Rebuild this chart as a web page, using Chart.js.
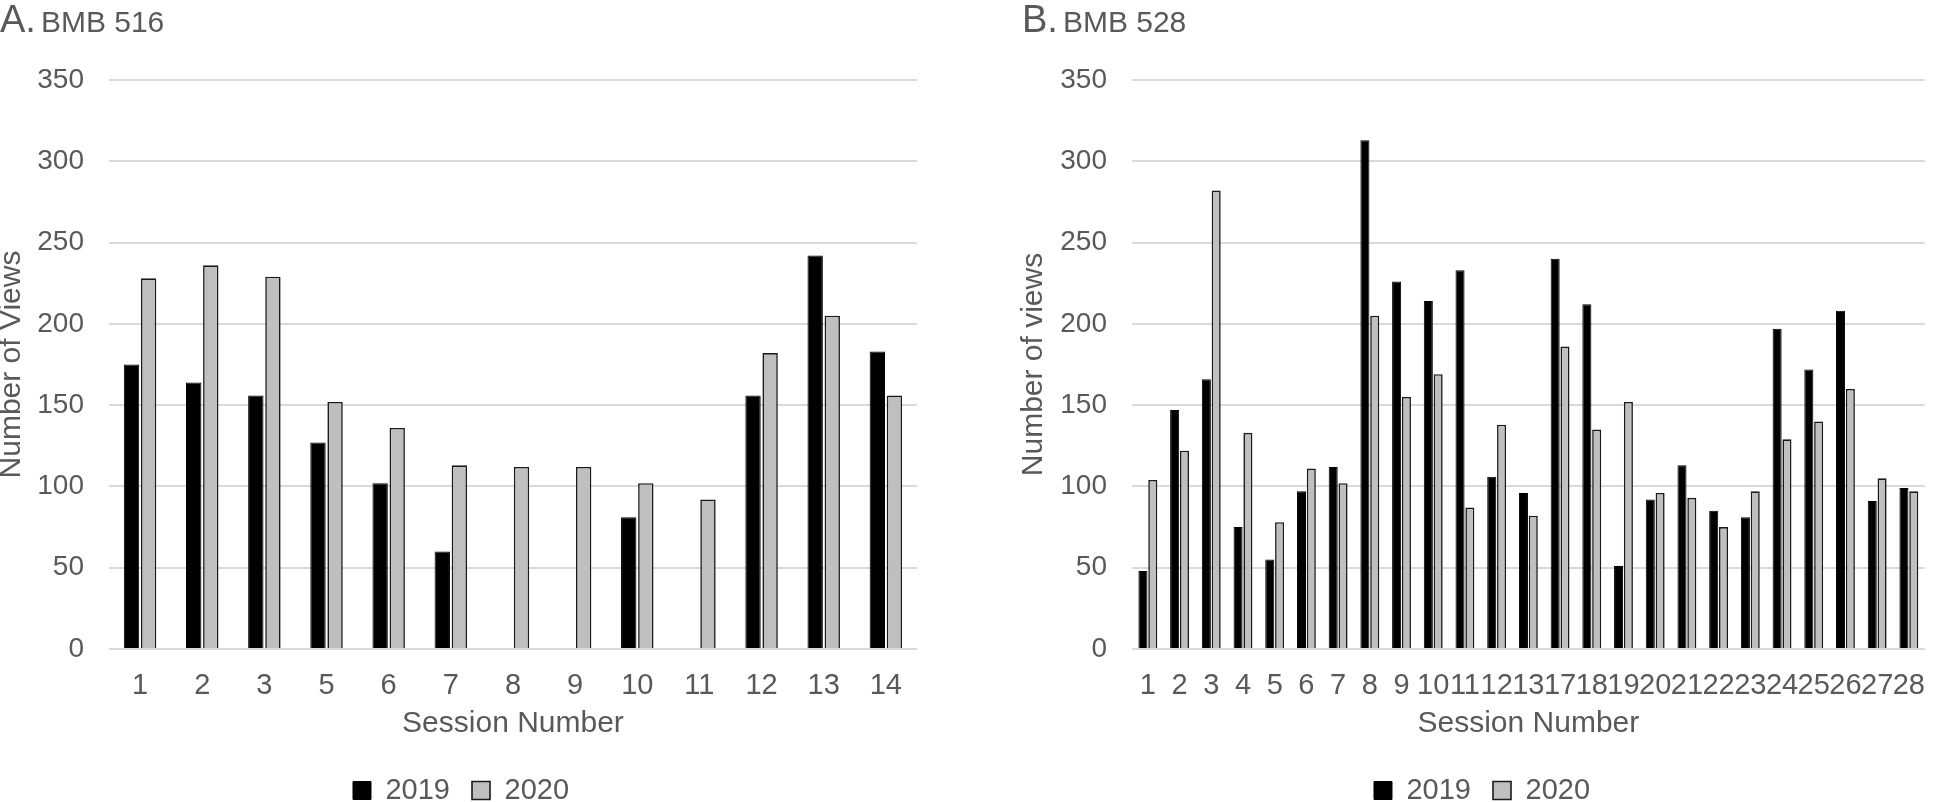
<!DOCTYPE html>
<html>
<head>
<meta charset="utf-8">
<script src="https://cdn.jsdelivr.net/npm/chart.js@4.4.1/dist/chart.umd.min.js"></script>
<style>
  html, body { margin: 0; padding: 0; background: #fff; width: 1945px; height: 802px; overflow: hidden; }
  .panel { position: absolute; top: 0; height: 815px; }
  .title { position: absolute; top: 0; font-family: "Liberation Sans", Arial, sans-serif; color: #595959;
           font-size: 38px; line-height: 38px; white-space: nowrap; }
  .title span { font-size: 30px; margin-left: 5px; }
</style>
</head>
<body>
<div class="panel" style="left:0;width:922px;"><canvas id="chartA" width="922" height="815"></canvas></div>
<div class="panel" style="left:1019px;width:926px;"><canvas id="chartB" width="926" height="815"></canvas></div>
<div class="title" style="left:0;">A.<span>BMB 516</span></div>
<div class="title" style="left:1022px;">B.<span>BMB 528</span></div>

<script>
// panel A - BMB 516
var sessionsA = ['1', '2', '3', '5', '6', '7', '8', '9', '10', '11', '12', '13', '14'];
var views2019A = [175, 164, 156, 127, 102, 60, null, null, 81, null, 156, 242, 183];
var views2020A = [228, 236, 229, 152, 136, 113, 112, 112, 102, 92, 182, 205, 156];

// panel B - BMB 528
var sessionsB = ['1', '2', '3', '4', '5', '6', '7', '8', '9', '10', '11', '12', '13',
                 '17', '18', '19', '20', '21', '22', '23', '24', '25', '26', '27', '28'];
var views2019B = [48, 147, 166, 75, 55, 97, 112, 313, 226, 214, 233, 106, 96,
                  240, 212, 51, 92, 113, 85, 81, 197, 172, 208, 91, 99];
var views2020B = [104, 122, 282, 133, 78, 111, 102, 205, 155, 169, 87, 138, 82,
                  186, 135, 152, 96, 93, 75, 97, 129, 140, 160, 105, 97];

var yearNames = ['2019', '2020'];
var yMax = 350;
var yStep = 50;

var textColor = '#595959';
var fontFamily = '"Liberation Sans", Arial, sans-serif';

function renderChart(canvasId, labels, d2019, d2020, yTitle, yWidth, yTitleLH, catPct, barPct) {
    var ctx = document.getElementById(canvasId).getContext('2d');
    return new Chart(ctx, {
        type: 'bar',
        data: {
            labels: labels,
            datasets: [{
                label: yearNames[0],
                data: d2019,
                backgroundColor: '#000000',
                borderColor: '#000000',
                borderWidth: 1,
                categoryPercentage: catPct,
                barPercentage: barPct
            }, {
                label: yearNames[1],
                data: d2020,
                backgroundColor: '#bfbfbf',
                borderColor: '#1a1a1a',
                borderWidth: 1.6,
                categoryPercentage: catPct,
                barPercentage: barPct
            }]
        },
        options: {
            responsive: false,
            animation: false,
            layout: { padding: { top: 80, right: 0, bottom: 0, left: 0 } },
            plugins: {
                legend: {
                    position: 'bottom',
                    labels: {
                        color: textColor,
                        font: { family: fontFamily, size: 29 },
                        boxWidth: 18,
                        boxHeight: 18,
                        padding: 22
                    }
                },
                tooltip: { enabled: false }
            },
            scales: {
                x: {
                    grid: { display: false, drawTicks: false },
                    border: { display: false },
                    ticks: {
                        color: textColor,
                        font: { family: fontFamily, size: 29 },
                        padding: 20,
                        autoSkip: false,
                        maxRotation: 0
                    },
                    title: {
                        display: true,
                        text: 'Session Number',
                        color: textColor,
                        font: { family: fontFamily, size: 30 },
                        padding: { top: 0, bottom: 12 }
                    },
                    afterFit: function (scale) { scale.height = 105; }
                },
                y: {
                    min: 0,
                    max: yMax,
                    grid: { color: '#d9d9d9', lineWidth: 2, drawTicks: false },
                    border: { display: false },
                    ticks: {
                        stepSize: yStep,
                        color: textColor,
                        font: { family: fontFamily, size: 28 },
                        padding: 25
                    },
                    title: {
                        display: true,
                        text: yTitle,
                        color: textColor,
                        font: { family: fontFamily, size: 30, lineHeight: yTitleLH },
                        padding: 0
                    },
                    afterFit: function (scale) { scale.width = yWidth; }
                }
            }
        }
    });
}

renderChart('chartA', sessionsA, views2019A, views2020A, 'Number of Views', 109, 0.8, 0.55, 0.9);
renderChart('chartB', sessionsB, views2019B, views2020B, 'Number of views', 113, 1.0, 0.62, 0.92);
</script>
</body>
</html>
